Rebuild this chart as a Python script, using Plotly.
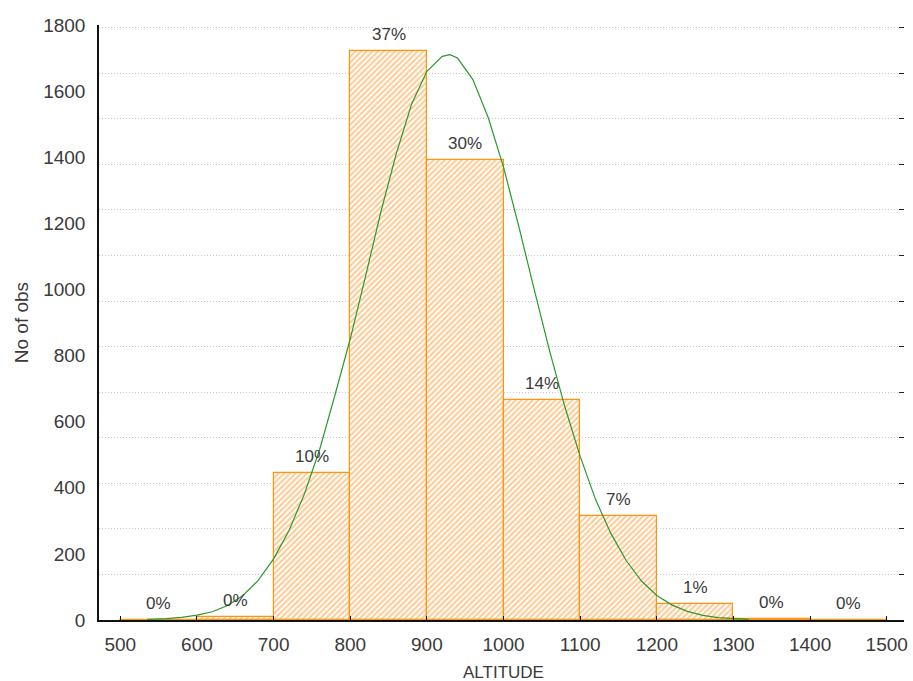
import plotly.graph_objects as go

# Histogram of ALTITUDE: bin edges (100 m bins) and observation counts
bin_starts = [500, 600, 700, 800, 900, 1000, 1100, 1200, 1300, 1400]
bin_width = 100
counts = [0, 10, 444, 1720, 1391, 665, 315, 47, 2, 0]

# Fitted normal curve, read as (altitude, expected count) points
curve_x = [535, 560, 580, 600, 620, 640, 660, 680, 700, 720, 740, 760, 780,
           800, 820, 840, 860, 880, 900, 920, 930, 940, 960, 980, 1000, 1020,
           1040, 1060, 1080, 1100, 1120, 1140, 1160, 1180, 1200, 1220, 1240,
           1260, 1280, 1300, 1320]
curve_y = [2, 4, 8, 15, 25, 44, 74, 120, 185, 270, 380, 515, 680,
           850, 1040, 1235, 1410, 1560, 1660, 1705, 1710, 1700, 1635, 1520, 1370, 1190,
           1000, 815, 645, 495, 365, 262, 180, 118, 74, 45, 26,
           14, 7, 4, 2]

x_ticks = [500, 600, 700, 800, 900, 1000, 1100, 1200, 1300, 1400, 1500]
y_ticks = [0, 200, 400, 600, 800, 1000, 1200, 1400, 1600, 1800]

total = sum(counts)
centers = [s + bin_width / 2 for s in bin_starts]
pct_labels = [f"{round(c / total * 100)}%" for c in counts]

ORANGE = "#FF9410"
HATCH = "#FF9222"
GREEN = "#2A9A2A"
TXT = "#3A3A3A"
FONT = "Liberation Sans, Arial, sans-serif"

fig = go.Figure()

fig.add_trace(go.Bar(
    x=centers, y=counts, width=bin_width,
    marker=dict(
        color="white",
        line=dict(color=ORANGE, width=1.2),
        pattern=dict(shape="/", fgcolor=HATCH, bgcolor="white", size=4, solidity=0.5),
    ),
    hoverinfo="skip", showlegend=False,
))

fig.add_trace(go.Scatter(
    x=curve_x, y=curve_y, mode="lines",
    line=dict(color=GREEN, width=1.2),
    hoverinfo="skip", showlegend=False,
))

# Invisible percent axis on the right: dotted gridlines every 3 % of observations
fig.add_trace(go.Scatter(x=[None], y=[None], yaxis="y2", showlegend=False))

annotations = []
for cx, c, lab in zip(centers, counts, pct_labels):
    annotations.append(dict(
        x=cx, y=c, xref="x", yref="y", text=lab, showarrow=False,
        yanchor="bottom", yshift=5, font=dict(family=FONT, size=17, color=TXT),
    ))

annotations.append(dict(
    text="ALTITUDE", xref="paper", yref="paper", x=0.502, y=-0.089,
    xanchor="center", yanchor="middle", showarrow=False,
    font=dict(family=FONT, size=17, color=TXT),
))
annotations.append(dict(
    text="No of obs", xref="paper", yref="paper", x=-0.096, y=0.5,
    xanchor="center", yanchor="middle", textangle=-90, showarrow=False,
    font=dict(family=FONT, size=19, color=TXT),
))

fig.update_layout(
    width=913, height=681,
    margin=dict(l=99, r=5, t=25, b=61),
    paper_bgcolor="white", plot_bgcolor="white",
    bargap=0,
    annotations=annotations,
    xaxis=dict(
        range=[472.2, 1522.5], tickvals=x_ticks, ticktext=[str(v) for v in x_ticks],
        showgrid=False, zeroline=False,
        showline=True, linecolor="#111111", linewidth=1.5,
        ticks="inside", ticklen=4, tickcolor="#111111",
        tickfont=dict(family=FONT, size=19, color=TXT),
        ticklabelstandoff=6,
    ),
    yaxis=dict(
        range=[0, 1800], tickvals=y_ticks, ticktext=[str(v) for v in y_ticks],
        showgrid=False, zeroline=False,
        showline=True, linecolor="#111111", linewidth=1.5,
        ticks="",
        tickfont=dict(family=FONT, size=19, color=TXT),
        ticklabelstandoff=8,
    ),
    yaxis2=dict(
        overlaying="y", side="right",
        range=[0, 1800 / total * 100], dtick=3, tick0=0,
        showticklabels=False, showline=False, zeroline=False,
        showgrid=True, gridcolor="#C8C8C8", griddash="1px,2px", gridwidth=1,
        ticks="inside", ticklen=5, tickcolor="#222222",
    ),
)

fig.write_html("out.html")
